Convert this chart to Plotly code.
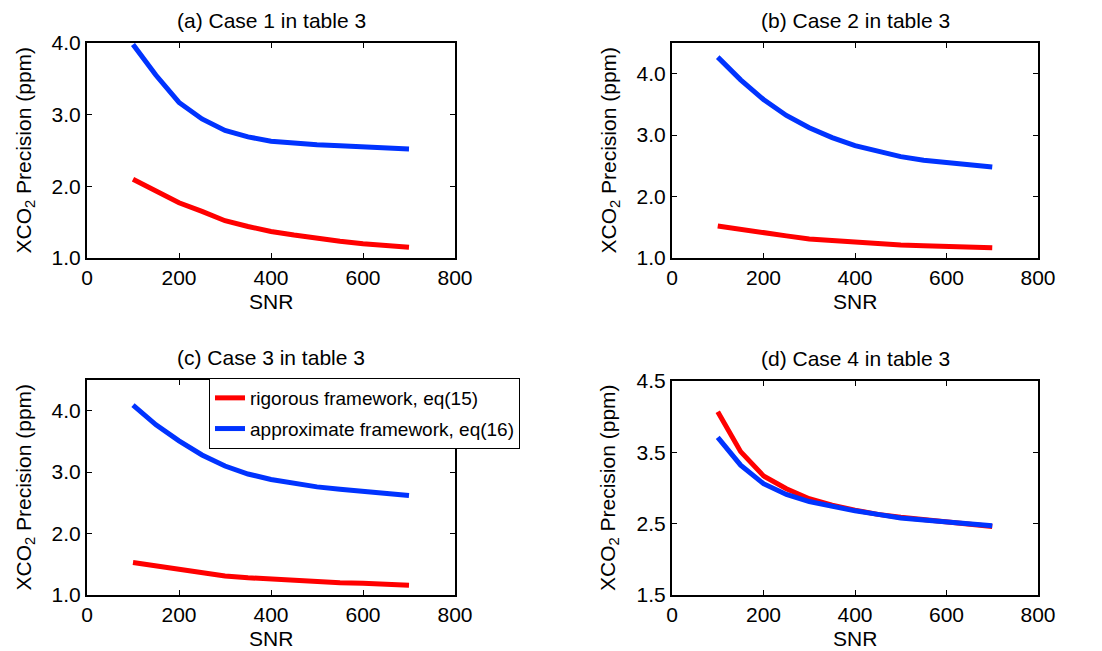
import plotly.graph_objects as go

snr = [100, 150, 200, 250, 300, 350, 400, 450, 500, 550, 600, 650, 700]

titles = ["(a) Case 1 in table 3", "(b) Case 2 in table 3",
          "(c) Case 3 in table 3", "(d) Case 4 in table 3"]

rigorous_a = [2.10, 1.94, 1.77, 1.65, 1.52, 1.44, 1.37, 1.32, 1.27, 1.235, 1.20, 1.175, 1.15]
approx_a = [3.98, 3.55, 3.17, 2.94, 2.78, 2.69, 2.63, 2.60, 2.58, 2.565, 2.55, 2.535, 2.52]

rigorous_b = [1.52, 1.46, 1.41, 1.36, 1.31, 1.28, 1.25, 1.225, 1.21, 1.20, 1.19, 1.175, 1.165]
approx_b = [4.27, 3.90, 3.58, 3.32, 3.12, 2.96, 2.83, 2.73, 2.65, 2.59, 2.55, 2.51, 2.48]

rigorous_c = [1.53, 1.47, 1.41, 1.36, 1.31, 1.28, 1.255, 1.23, 1.21, 1.20, 1.19, 1.175, 1.16]
approx_c = [4.09, 3.77, 3.51, 3.28, 3.10, 2.97, 2.88, 2.81, 2.76, 2.72, 2.68, 2.65, 2.62]

rigorous_d = [4.07, 3.51, 3.17, 2.99, 2.85, 2.76, 2.69, 2.63, 2.59, 2.56, 2.53, 2.50, 2.46]
approx_d = [3.71, 3.32, 3.06, 2.91, 2.81, 2.74, 2.68, 2.63, 2.58, 2.55, 2.52, 2.495, 2.47]

rigorous = [rigorous_a, rigorous_b, rigorous_c, rigorous_d]
approx = [approx_a, approx_b, approx_c, approx_d]

y_ranges = [[1.0, 4.0], [1.0, 4.5], [1.0, 4.5], [1.5, 4.5]]
y_ticks = [[1.0, 2.0, 3.0, 4.0], [1.0, 2.0, 3.0, 4.0], [1.0, 2.0, 3.0, 4.0], [1.5, 2.5, 3.5, 4.5]]
x_ticks = [0, 200, 400, 600, 800]

legend_names = ["rigorous framework, eq(15)", "approximate framework, eq(16)"]
RED = "#ff0000"
BLUE = "#0033ff"
FONT = "Liberation Sans, Arial, Helvetica, sans-serif"
FS = 21

W, H = 1102, 651
# pixel boxes: (x0, x1, ytop, ybottom)
boxes = [(87, 455, 43, 258), (672, 1038, 43, 258),
         (87, 455, 380, 595), (672, 1038, 381, 595)]

fig = go.Figure()
layout = dict(
    width=W, height=H,
    margin=dict(l=0, r=0, t=0, b=0, autoexpand=False),
    paper_bgcolor="white", plot_bgcolor="white",
    font=dict(family=FONT, size=FS, color="black"),
    annotations=[],
)

for i in range(4):
    ax = "" if i == 0 else str(i + 1)
    x0, x1, yt, yb = boxes[i]
    fig.add_trace(go.Scatter(x=snr, y=rigorous[i], mode="lines",
                             line=dict(color=RED, width=5),
                             name=legend_names[0], showlegend=(i == 2),
                             legendgroup="r",
                             xaxis="x" + ax, yaxis="y" + ax))
    fig.add_trace(go.Scatter(x=snr, y=approx[i], mode="lines",
                             line=dict(color=BLUE, width=5),
                             name=legend_names[1], showlegend=(i == 2),
                             legendgroup="b",
                             xaxis="x" + ax, yaxis="y" + ax))
    common = dict(showline=True, linecolor="black", linewidth=2, mirror="ticks",
                  ticks="inside", ticklen=5, tickwidth=1, tickcolor="black",
                  showgrid=False, zeroline=False, automargin=False,
                  tickfont=dict(family=FONT, size=FS, color="black"))
    layout["xaxis" + ax] = dict(common, domain=[x0 / W, x1 / W], range=[0, 800],
                                tickvals=x_ticks, anchor="y" + ax)
    layout["yaxis" + ax] = dict(common, domain=[1 - yb / H, 1 - yt / H], range=y_ranges[i],
                                tickvals=y_ticks[i], tickformat=".1f", anchor="x" + ax)
    cx = (x0 + x1) / 2
    layout["annotations"].append(dict(text=titles[i], x=cx / W, y=1 - (yt - 23) / H,
                                      xref="paper", yref="paper", showarrow=False,
                                      xanchor="center", yanchor="middle",
                                      font=dict(size=FS)))
    layout["annotations"].append(dict(text="SNR", x=cx / W, y=1 - (yb + 43) / H,
                                      xref="paper", yref="paper", showarrow=False,
                                      xanchor="center", yanchor="middle",
                                      font=dict(size=FS)))
    layout["annotations"].append(dict(text="XCO<sub>2</sub> Precision (ppm)", textangle=-90,
                                      x=(x0 - 63) / W, y=1 - ((yt + yb) / 2) / H,
                                      xref="paper", yref="paper", showarrow=False,
                                      xanchor="center", yanchor="middle",
                                      font=dict(size=FS)))

layout["legend"] = dict(x=209 / W, y=1 - 378 / H, xanchor="left", yanchor="top",
                        bgcolor="white", bordercolor="black", borderwidth=1,
                        font=dict(family=FONT, size=19, color="black"),
                        traceorder="grouped", tracegroupgap=3, itemwidth=30)
layout["showlegend"] = True
fig.update_layout(**layout)
fig.write_html("out.html", config={"displayModeBar": False},
               post_script="document.body.style.margin='0';document.body.style.overflow='hidden';")
